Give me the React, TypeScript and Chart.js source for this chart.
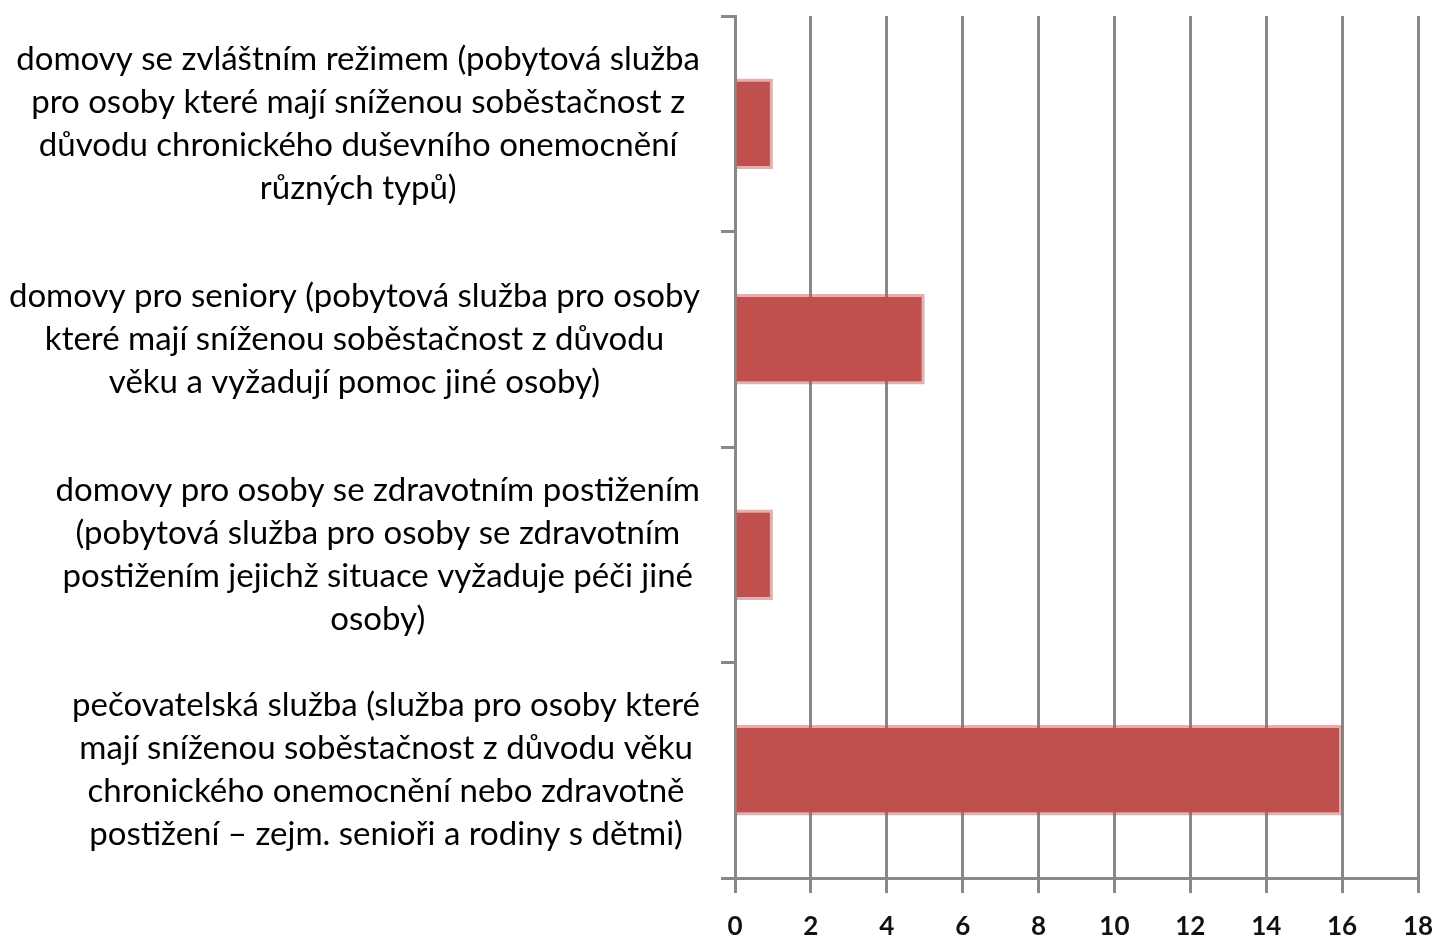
import { useEffect, useRef } from "react";
import { Chart, registerables } from "chart.js";

Chart.register(...registerables);

const categories: string[][] = [
  [
    "domovy se zvláštním režimem (pobytová služba",
    "pro osoby které mají sníženou soběstačnost z",
    "důvodu chronického duševního onemocnění",
    "různých typů)",
  ],
  [
    "domovy pro seniory (pobytová služba pro osoby",
    "které mají sníženou soběstačnost z důvodu",
    "věku a vyžadují pomoc jiné osoby)",
  ],
  [
    "domovy pro osoby se zdravotním postižením",
    "(pobytová služba pro osoby se zdravotním",
    "postižením jejichž situace vyžaduje péči jiné",
    "osoby)",
  ],
  [
    "pečovatelská služba (služba pro osoby které",
    "mají sníženou soběstačnost z důvodu věku",
    "chronického onemocnění nebo zdravotně",
    "postižení – zejm. senioři a rodiny s dětmi)",
  ],
];

const values = [1, 5, 1, 16];

const xMin = 0;
const xMax = 18;
const xStep = 2;

const LABEL_FONT = "33px Lato";
const LINE_HEIGHT = 43;
const Y_TICK_LEN = 14;
const Y_LABEL_PAD = 21;

const labelPlugin = {
  id: "blockLabels",
  afterDraw(chart: any) {
    const y = chart.scales.y;
    const ctx = chart.ctx;
    ctx.save();
    ctx.font = LABEL_FONT;
    ctx.fillStyle = "#000000";
    ctx.textAlign = "center";
    ctx.textBaseline = "middle";
    const rightEdge = y.right - Y_TICK_LEN - Y_LABEL_PAD;
    categories.forEach((lines, i) => {
      const cy = y.getPixelForTick(i);
      const w = Math.max(...lines.map((l) => ctx.measureText(l).width));
      const cx = rightEdge - w / 2;
      lines.forEach((l, j) => {
        ctx.fillText(l, cx, cy + (j - (lines.length - 1) / 2) * LINE_HEIGHT);
      });
    });
    ctx.restore();
  },
};

export default function App() {
  const ref = useRef<HTMLCanvasElement | null>(null);

  useEffect(() => {
    if (!ref.current) return;
    const chart = new Chart(ref.current, {
      type: "bar",
      data: {
        labels: categories.map((c) => c.join(" ")),
        datasets: [
          {
            data: values,
            backgroundColor: "#C0504D",
            borderColor: "rgba(192,80,77,0.45)",
            borderWidth: 3,
            barPercentage: 0.42,
            categoryPercentage: 1,
          },
        ],
      },
      options: {
        indexAxis: "y",
        animation: false,
        responsive: true,
        maintainAspectRatio: false,
        layout: { padding: { top: 16, right: 19, left: 0, bottom: 0 } },
        plugins: { legend: { display: false }, tooltip: { enabled: false } },
        scales: {
          x: {
            min: xMin,
            max: xMax,
            ticks: {
              stepSize: xStep,
              color: "#111111",
              font: { family: "Lato", size: 26, weight: "bold" },
              padding: 18,
            },
            grid: {
              color: "#888888",
              lineWidth: 3,
              tickLength: 15,
            },
            border: { color: "#888888", width: 3 },
            afterFit(scale: any) {
              scale.height = 59;
              scale.paddingLeft = 0;
              scale.paddingRight = 0;
            },
          },
          y: {
            ticks: { display: false },
            grid: {
              offset: true,
              drawOnChartArea: false,
              drawTicks: true,
              tickLength: Y_TICK_LEN,
              color: "#888888",
              lineWidth: 3,
            },
            border: { color: "#888888", width: 3 },
            afterFit(scale: any) {
              scale.width = 735;
              scale.paddingTop = 0;
              scale.paddingBottom = 0;
            },
          },
        },
      },
      plugins: [labelPlugin],
    });
    return () => chart.destroy();
  }, []);

  return (
    <div
      style={{
        position: "fixed",
        left: 0,
        top: 0,
        width: 1437,
        height: 937,
        background: "#ffffff",
      }}
    >
      <canvas ref={ref} />
    </div>
  );
}
